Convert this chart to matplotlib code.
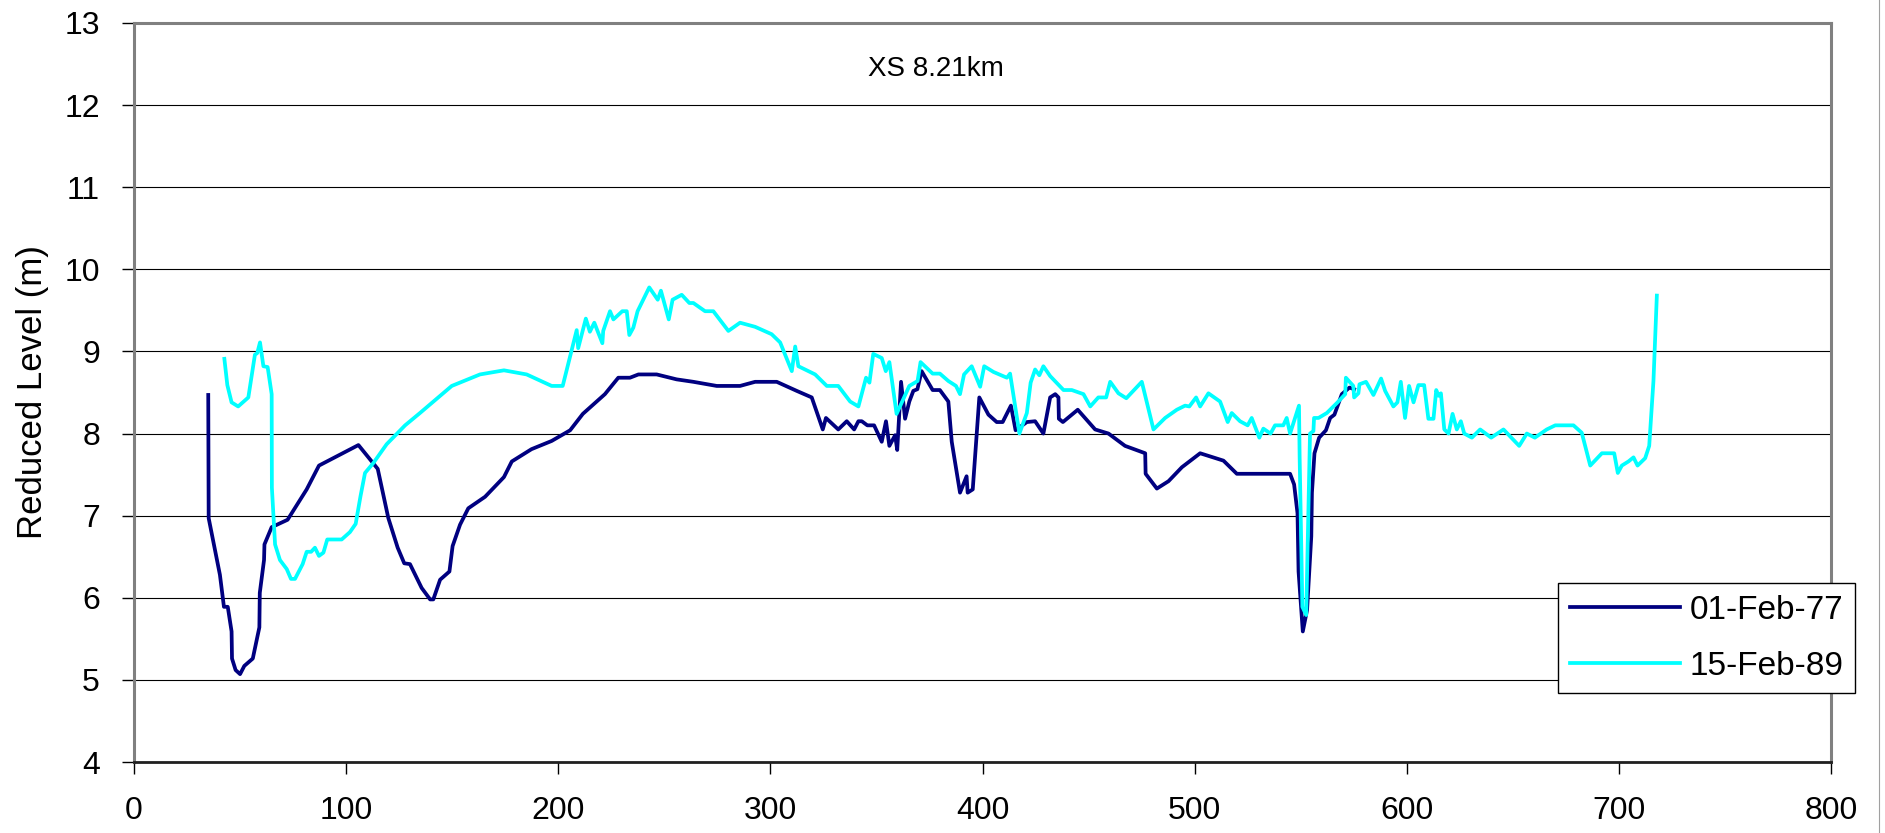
import matplotlib
matplotlib.use("Agg")
import matplotlib.pyplot as plt
from matplotlib.lines import Line2D

plt.rcParams['font.family'] = ['Liberation Sans', 'DejaVu Sans']

# Cross-section XS 8.21km, two survey dates
chainage_77 = [
    35.0, 35.2, 40.5, 42.4, 44.2, 46.0, 46.2, 47.9, 50.0, 52.0,
    56.0, 59.1, 59.3, 61.3, 61.5, 64.9, 72.4, 81.4, 87.2, 105.8,
    114.9, 119.9, 124.3, 127.4, 130.1, 135.6, 139.6, 141.1, 144.3, 148.7,
    150.2, 153.7, 157.6, 165.5, 174.4, 178.1, 187.4, 196.9, 205.6, 211.6,
    222.0, 228.3, 233.8, 237.8, 246.4, 255.8, 263.7, 274.7, 285.7, 292.8,
    303.0, 312.4, 319.5, 324.7, 326.2, 332.0, 336.0, 339.5, 341.5, 343.1,
    345.7, 348.9, 352.5, 354.5, 356.1, 358.8, 359.8, 361.6, 363.5, 365.5,
    367.4, 369.3, 371.3, 376.5, 379.9, 383.9, 385.5, 389.4, 392.5, 393.0,
    395.4, 398.5, 402.8, 406.7, 409.5, 413.4, 415.6, 420.9, 424.8, 428.7,
    431.9, 434.3, 435.8, 436.0, 437.9, 444.9, 453.1, 459.4, 467.2, 476.7,
    476.9, 482.2, 487.7, 494.0, 502.6, 513.6, 519.9, 526.9, 545.0, 546.9,
    548.5, 549.0, 551.0, 553.0, 555.0, 555.3, 556.5, 558.7, 561.9, 563.9,
    565.9, 569.4, 573.0, 575.2]
level_77 = [
    8.47, 6.97, 6.28, 5.89, 5.89, 5.59, 5.26, 5.12, 5.07, 5.17,
    5.26, 5.64, 6.06, 6.46, 6.65, 6.86, 6.95, 7.32, 7.61, 7.86,
    7.57, 6.97, 6.61, 6.42, 6.41, 6.12, 5.98, 5.98, 6.22, 6.32,
    6.63, 6.89, 7.09, 7.23, 7.47, 7.66, 7.81, 7.91, 8.04, 8.24,
    8.48, 8.68, 8.68, 8.72, 8.72, 8.66, 8.63, 8.58, 8.58, 8.63,
    8.63, 8.52, 8.44, 8.05, 8.19, 8.05, 8.15, 8.05, 8.15, 8.15,
    8.10, 8.10, 7.90, 8.15, 7.85, 7.98, 7.80, 8.63, 8.18, 8.39,
    8.52, 8.54, 8.76, 8.53, 8.53, 8.39, 7.90, 7.28, 7.48, 7.28,
    7.32, 8.44, 8.23, 8.14, 8.14, 8.34, 8.04, 8.14, 8.15, 8.00,
    8.44, 8.48, 8.44, 8.18, 8.14, 8.29, 8.05, 8.00, 7.85, 7.76,
    7.51, 7.33, 7.42, 7.59, 7.76, 7.67, 7.51, 7.51, 7.51, 7.38,
    7.03, 6.32, 5.59, 5.85, 6.75, 7.28, 7.76, 7.95, 8.04, 8.19,
    8.23, 8.48, 8.56, 8.54]

chainage_89 = [
    42.6, 44.0, 46.0, 49.1, 53.9, 57.0, 58.1, 59.4, 61.0, 63.0,
    64.9, 65.0, 66.5, 68.8, 72.0, 74.0, 75.9, 79.5, 81.4, 83.5,
    85.3, 87.2, 89.3, 91.1, 97.9, 101.8, 104.5, 106.8, 108.9, 112.8,
    119.1, 127.8, 134.8, 149.8, 163.1, 174.4, 185.1, 196.9, 202.1, 208.7,
    209.4, 213.0, 214.9, 217.0, 220.8, 221.2, 224.4, 226.0, 230.2, 232.3,
    233.5, 235.4, 237.4, 242.9, 246.9, 248.4, 252.1, 253.9, 258.2, 261.8,
    263.7, 269.2, 273.1, 280.2, 285.7, 292.8, 300.6, 304.6, 310.1, 311.7,
    313.2, 321.1, 326.6, 332.0, 337.6, 341.5, 345.1, 346.7, 348.5, 352.5,
    354.4, 356.1, 359.5, 365.5, 369.4, 370.8, 376.5, 379.9, 383.9, 387.5,
    389.4, 391.3, 394.9, 398.9, 400.8, 405.2, 411.5, 413.0, 417.4, 420.9,
    422.7, 424.8, 426.8, 428.7, 431.9, 438.2, 442.1, 447.6, 450.8, 454.6,
    458.3, 460.2, 464.1, 467.8, 475.1, 480.6, 486.1, 491.6, 495.5, 497.5,
    500.7, 502.6, 506.5, 512.0, 515.6, 517.5, 521.4, 525.0, 526.9, 530.5,
    532.4, 535.8, 537.9, 541.8, 543.4, 545.0, 549.2, 549.5, 550.8, 552.6,
    554.4, 556.0, 556.3, 558.4, 562.3, 567.0, 571.0, 571.3, 574.8, 575.2,
    577.2, 577.7, 580.8, 584.3, 587.9, 589.8, 593.7, 595.6, 597.2, 599.2,
    601.1, 603.2, 605.5, 608.2, 610.2, 612.6, 613.9, 615.0, 616.1, 617.7,
    619.7, 621.6, 623.6, 625.5, 627.1, 630.7, 634.6, 639.8, 645.6, 653.0,
    656.6, 660.4, 666.0, 670.0, 678.6, 682.5, 686.5, 692.0, 697.8, 699.5,
    701.4, 704.5, 706.9, 708.8, 712.4, 714.3, 716.3, 717.9]
level_89 = [
    8.91, 8.59, 8.38, 8.33, 8.44, 8.96, 8.98, 9.11, 8.82, 8.81,
    8.48, 7.34, 6.65, 6.46, 6.35, 6.23, 6.23, 6.41, 6.56, 6.56,
    6.61, 6.51, 6.55, 6.71, 6.71, 6.80, 6.90, 7.24, 7.52, 7.64,
    7.87, 8.10, 8.25, 8.58, 8.72, 8.77, 8.72, 8.58, 8.58, 9.26,
    9.04, 9.40, 9.24, 9.35, 9.10, 9.25, 9.49, 9.39, 9.49, 9.49,
    9.20, 9.29, 9.49, 9.78, 9.63, 9.74, 9.39, 9.63, 9.69, 9.59,
    9.59, 9.49, 9.49, 9.25, 9.35, 9.30, 9.21, 9.11, 8.76, 9.06,
    8.82, 8.72, 8.58, 8.58, 8.39, 8.33, 8.68, 8.62, 8.97, 8.92,
    8.76, 8.87, 8.24, 8.58, 8.64, 8.87, 8.73, 8.73, 8.64, 8.58,
    8.48, 8.72, 8.82, 8.57, 8.82, 8.75, 8.68, 8.73, 8.00, 8.25,
    8.62, 8.78, 8.71, 8.82, 8.70, 8.53, 8.53, 8.48, 8.33, 8.44,
    8.44, 8.63, 8.49, 8.43, 8.63, 8.05, 8.19, 8.29, 8.34, 8.33,
    8.44, 8.33, 8.49, 8.39, 8.14, 8.25, 8.15, 8.10, 8.19, 7.95,
    8.06, 8.00, 8.10, 8.10, 8.19, 8.00, 8.34, 7.72, 5.89, 5.79,
    8.00, 8.03, 8.19, 8.19, 8.25, 8.37, 8.48, 8.68, 8.58, 8.44,
    8.49, 8.60, 8.63, 8.47, 8.67, 8.52, 8.33, 8.38, 8.63, 8.19,
    8.58, 8.38, 8.59, 8.59, 8.18, 8.18, 8.53, 8.46, 8.49, 8.05,
    8.00, 8.24, 8.05, 8.15, 8.00, 7.95, 8.05, 7.95, 8.05, 7.85,
    8.00, 7.95, 8.05, 8.10, 8.10, 8.01, 7.61, 7.76, 7.76, 7.52,
    7.61, 7.66, 7.71, 7.61, 7.70, 7.85, 8.64, 9.68]

x_ticks = [0, 100, 200, 300, 400, 500, 600, 700, 800]
y_ticks = [4, 5, 6, 7, 8, 9, 10, 11, 12, 13]

W, H = 1885, 833
fig = plt.figure(figsize=(W / 100, H / 100), dpi=100)
ax = fig.add_axes([134 / W, 71 / H, (1831 - 134) / W, (762 - 23) / H])

ax.plot(chainage_77, level_77, color='#000080', lw=2.7, label='01-Feb-77')
ax.plot(chainage_89, level_89, color='#00FFFF', lw=2.7, label='15-Feb-89')

ax.set_xlim(0, 800)
ax.set_ylim(4, 13)
ax.set_xticks(x_ticks)
ax.set_yticks(y_ticks)
ax.yaxis.grid(True, color='black', lw=0.8)
ax.set_axisbelow(True)

for side in ['left', 'top', 'right']:
    ax.spines[side].set_color('#808080')
    ax.spines[side].set_linewidth(2.2)
ax.spines['bottom'].set_color('#202020')
ax.spines['bottom'].set_linewidth(2.0)

ax.tick_params(axis='both', direction='out', length=8.5, width=1,
               pad=16, labelsize=23, color='black')

ax.set_ylabel('Reduced Level (m)', fontsize=25)
ax.yaxis.set_label_coords(-0.050, 0.5)

ax.text(0.4726, 0.9278, 'XS 8.21km', transform=ax.transAxes,
        ha='center', va='baseline', fontsize=20)

leg = ax.legend(loc='upper left', bbox_to_anchor=(1558 / W, 1 - 583 / H),
                bbox_transform=fig.transFigure, fontsize=24, frameon=True,
                fancybox=False, edgecolor='black', framealpha=1,
                borderaxespad=0, handlelength=3.3, handletextpad=0.3,
                labelspacing=0.75, borderpad=0.35)
leg.get_frame().set_linewidth(1.0)

# thin chart-area border on the right
fig.add_artist(Line2D([1879 / W] * 2, [0, 1], transform=fig.transFigure,
                      color='#a0a0a0', lw=0.8))

fig.savefig('out.png', dpi=100)
